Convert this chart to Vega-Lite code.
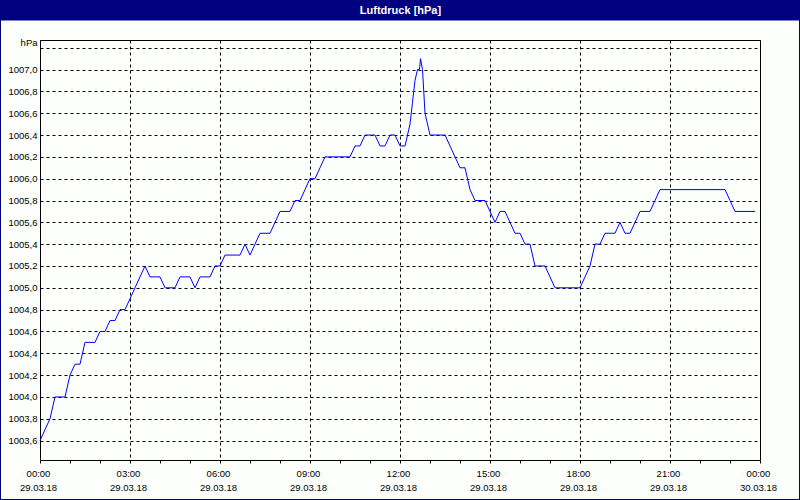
{
  "$schema": "https://vega.github.io/schema/vega-lite/v6.json",
  "width": 800,
  "height": 500,
  "autosize": {"type": "none"},
  "padding": 0,
  "background": "#fcfffc",
  "config": {
    "view": {"fill": "#fcfffc", "stroke": "#000080", "strokeWidth": 2},
    "axis": {"labelFont": "Liberation Sans", "labelFontSize": 9.5, "labelColor": "#000000"}
  },
  "data": {
    "values": [
      {"zeit": "2018-03-29T00:00Z", "hPa": 1003.6},
      {"zeit": "2018-03-29T00:10Z", "hPa": 1003.7},
      {"zeit": "2018-03-29T00:20Z", "hPa": 1003.8},
      {"zeit": "2018-03-29T00:30Z", "hPa": 1004.0},
      {"zeit": "2018-03-29T00:40Z", "hPa": 1004.0},
      {"zeit": "2018-03-29T00:50Z", "hPa": 1004.0},
      {"zeit": "2018-03-29T01:00Z", "hPa": 1004.2},
      {"zeit": "2018-03-29T01:10Z", "hPa": 1004.3},
      {"zeit": "2018-03-29T01:20Z", "hPa": 1004.3},
      {"zeit": "2018-03-29T01:30Z", "hPa": 1004.5},
      {"zeit": "2018-03-29T01:40Z", "hPa": 1004.5},
      {"zeit": "2018-03-29T01:50Z", "hPa": 1004.5},
      {"zeit": "2018-03-29T02:00Z", "hPa": 1004.6},
      {"zeit": "2018-03-29T02:10Z", "hPa": 1004.6},
      {"zeit": "2018-03-29T02:20Z", "hPa": 1004.7},
      {"zeit": "2018-03-29T02:30Z", "hPa": 1004.7},
      {"zeit": "2018-03-29T02:40Z", "hPa": 1004.8},
      {"zeit": "2018-03-29T02:50Z", "hPa": 1004.8},
      {"zeit": "2018-03-29T03:00Z", "hPa": 1004.9},
      {"zeit": "2018-03-29T03:10Z", "hPa": 1005.0},
      {"zeit": "2018-03-29T03:20Z", "hPa": 1005.1},
      {"zeit": "2018-03-29T03:30Z", "hPa": 1005.2},
      {"zeit": "2018-03-29T03:40Z", "hPa": 1005.1},
      {"zeit": "2018-03-29T03:50Z", "hPa": 1005.1},
      {"zeit": "2018-03-29T04:00Z", "hPa": 1005.1},
      {"zeit": "2018-03-29T04:10Z", "hPa": 1005.0},
      {"zeit": "2018-03-29T04:20Z", "hPa": 1005.0},
      {"zeit": "2018-03-29T04:30Z", "hPa": 1005.0},
      {"zeit": "2018-03-29T04:40Z", "hPa": 1005.1},
      {"zeit": "2018-03-29T04:50Z", "hPa": 1005.1},
      {"zeit": "2018-03-29T05:00Z", "hPa": 1005.1},
      {"zeit": "2018-03-29T05:10Z", "hPa": 1005.0},
      {"zeit": "2018-03-29T05:20Z", "hPa": 1005.1},
      {"zeit": "2018-03-29T05:30Z", "hPa": 1005.1},
      {"zeit": "2018-03-29T05:40Z", "hPa": 1005.1},
      {"zeit": "2018-03-29T05:50Z", "hPa": 1005.2},
      {"zeit": "2018-03-29T06:00Z", "hPa": 1005.2},
      {"zeit": "2018-03-29T06:10Z", "hPa": 1005.3},
      {"zeit": "2018-03-29T06:20Z", "hPa": 1005.3},
      {"zeit": "2018-03-29T06:30Z", "hPa": 1005.3},
      {"zeit": "2018-03-29T06:40Z", "hPa": 1005.3},
      {"zeit": "2018-03-29T06:50Z", "hPa": 1005.4},
      {"zeit": "2018-03-29T07:00Z", "hPa": 1005.3},
      {"zeit": "2018-03-29T07:10Z", "hPa": 1005.4},
      {"zeit": "2018-03-29T07:20Z", "hPa": 1005.5},
      {"zeit": "2018-03-29T07:30Z", "hPa": 1005.5},
      {"zeit": "2018-03-29T07:40Z", "hPa": 1005.5},
      {"zeit": "2018-03-29T07:50Z", "hPa": 1005.6},
      {"zeit": "2018-03-29T08:00Z", "hPa": 1005.7},
      {"zeit": "2018-03-29T08:10Z", "hPa": 1005.7},
      {"zeit": "2018-03-29T08:20Z", "hPa": 1005.7},
      {"zeit": "2018-03-29T08:30Z", "hPa": 1005.8},
      {"zeit": "2018-03-29T08:40Z", "hPa": 1005.8},
      {"zeit": "2018-03-29T08:50Z", "hPa": 1005.9},
      {"zeit": "2018-03-29T09:00Z", "hPa": 1006.0},
      {"zeit": "2018-03-29T09:10Z", "hPa": 1006.0},
      {"zeit": "2018-03-29T09:20Z", "hPa": 1006.1},
      {"zeit": "2018-03-29T09:30Z", "hPa": 1006.2},
      {"zeit": "2018-03-29T09:40Z", "hPa": 1006.2},
      {"zeit": "2018-03-29T09:50Z", "hPa": 1006.2},
      {"zeit": "2018-03-29T10:00Z", "hPa": 1006.2},
      {"zeit": "2018-03-29T10:10Z", "hPa": 1006.2},
      {"zeit": "2018-03-29T10:20Z", "hPa": 1006.2},
      {"zeit": "2018-03-29T10:30Z", "hPa": 1006.3},
      {"zeit": "2018-03-29T10:40Z", "hPa": 1006.3},
      {"zeit": "2018-03-29T10:50Z", "hPa": 1006.4},
      {"zeit": "2018-03-29T11:00Z", "hPa": 1006.4},
      {"zeit": "2018-03-29T11:10Z", "hPa": 1006.4},
      {"zeit": "2018-03-29T11:20Z", "hPa": 1006.3},
      {"zeit": "2018-03-29T11:30Z", "hPa": 1006.3},
      {"zeit": "2018-03-29T11:40Z", "hPa": 1006.4},
      {"zeit": "2018-03-29T11:50Z", "hPa": 1006.4},
      {"zeit": "2018-03-29T12:00Z", "hPa": 1006.3},
      {"zeit": "2018-03-29T12:10Z", "hPa": 1006.3},
      {"zeit": "2018-03-29T12:15Z", "hPa": 1006.4},
      {"zeit": "2018-03-29T12:20Z", "hPa": 1006.5},
      {"zeit": "2018-03-29T12:25Z", "hPa": 1006.7},
      {"zeit": "2018-03-29T12:30Z", "hPa": 1006.9},
      {"zeit": "2018-03-29T12:35Z", "hPa": 1007.0},
      {"zeit": "2018-03-29T12:39Z", "hPa": 1007.0},
      {"zeit": "2018-03-29T12:41Z", "hPa": 1007.1},
      {"zeit": "2018-03-29T12:45Z", "hPa": 1007.0},
      {"zeit": "2018-03-29T12:50Z", "hPa": 1006.6},
      {"zeit": "2018-03-29T13:00Z", "hPa": 1006.4},
      {"zeit": "2018-03-29T13:10Z", "hPa": 1006.4},
      {"zeit": "2018-03-29T13:20Z", "hPa": 1006.4},
      {"zeit": "2018-03-29T13:30Z", "hPa": 1006.4},
      {"zeit": "2018-03-29T13:40Z", "hPa": 1006.3},
      {"zeit": "2018-03-29T13:50Z", "hPa": 1006.2},
      {"zeit": "2018-03-29T14:00Z", "hPa": 1006.1},
      {"zeit": "2018-03-29T14:10Z", "hPa": 1006.1},
      {"zeit": "2018-03-29T14:20Z", "hPa": 1005.9},
      {"zeit": "2018-03-29T14:30Z", "hPa": 1005.8},
      {"zeit": "2018-03-29T14:40Z", "hPa": 1005.8},
      {"zeit": "2018-03-29T14:50Z", "hPa": 1005.8},
      {"zeit": "2018-03-29T15:00Z", "hPa": 1005.7},
      {"zeit": "2018-03-29T15:10Z", "hPa": 1005.6},
      {"zeit": "2018-03-29T15:20Z", "hPa": 1005.7},
      {"zeit": "2018-03-29T15:30Z", "hPa": 1005.7},
      {"zeit": "2018-03-29T15:40Z", "hPa": 1005.6},
      {"zeit": "2018-03-29T15:50Z", "hPa": 1005.5},
      {"zeit": "2018-03-29T16:00Z", "hPa": 1005.5},
      {"zeit": "2018-03-29T16:10Z", "hPa": 1005.4},
      {"zeit": "2018-03-29T16:20Z", "hPa": 1005.4},
      {"zeit": "2018-03-29T16:30Z", "hPa": 1005.2},
      {"zeit": "2018-03-29T16:40Z", "hPa": 1005.2},
      {"zeit": "2018-03-29T16:50Z", "hPa": 1005.2},
      {"zeit": "2018-03-29T17:00Z", "hPa": 1005.1},
      {"zeit": "2018-03-29T17:10Z", "hPa": 1005.0},
      {"zeit": "2018-03-29T17:20Z", "hPa": 1005.0},
      {"zeit": "2018-03-29T17:30Z", "hPa": 1005.0},
      {"zeit": "2018-03-29T17:40Z", "hPa": 1005.0},
      {"zeit": "2018-03-29T17:50Z", "hPa": 1005.0},
      {"zeit": "2018-03-29T18:00Z", "hPa": 1005.0},
      {"zeit": "2018-03-29T18:10Z", "hPa": 1005.1},
      {"zeit": "2018-03-29T18:20Z", "hPa": 1005.2},
      {"zeit": "2018-03-29T18:30Z", "hPa": 1005.4},
      {"zeit": "2018-03-29T18:40Z", "hPa": 1005.4},
      {"zeit": "2018-03-29T18:50Z", "hPa": 1005.5},
      {"zeit": "2018-03-29T19:00Z", "hPa": 1005.5},
      {"zeit": "2018-03-29T19:10Z", "hPa": 1005.5},
      {"zeit": "2018-03-29T19:20Z", "hPa": 1005.6},
      {"zeit": "2018-03-29T19:30Z", "hPa": 1005.5},
      {"zeit": "2018-03-29T19:40Z", "hPa": 1005.5},
      {"zeit": "2018-03-29T19:50Z", "hPa": 1005.6},
      {"zeit": "2018-03-29T20:00Z", "hPa": 1005.7},
      {"zeit": "2018-03-29T20:10Z", "hPa": 1005.7},
      {"zeit": "2018-03-29T20:20Z", "hPa": 1005.7},
      {"zeit": "2018-03-29T20:30Z", "hPa": 1005.8},
      {"zeit": "2018-03-29T20:40Z", "hPa": 1005.9},
      {"zeit": "2018-03-29T20:50Z", "hPa": 1005.9},
      {"zeit": "2018-03-29T21:00Z", "hPa": 1005.9},
      {"zeit": "2018-03-29T21:10Z", "hPa": 1005.9},
      {"zeit": "2018-03-29T21:20Z", "hPa": 1005.9},
      {"zeit": "2018-03-29T21:30Z", "hPa": 1005.9},
      {"zeit": "2018-03-29T21:40Z", "hPa": 1005.9},
      {"zeit": "2018-03-29T21:50Z", "hPa": 1005.9},
      {"zeit": "2018-03-29T22:00Z", "hPa": 1005.9},
      {"zeit": "2018-03-29T22:10Z", "hPa": 1005.9},
      {"zeit": "2018-03-29T22:20Z", "hPa": 1005.9},
      {"zeit": "2018-03-29T22:30Z", "hPa": 1005.9},
      {"zeit": "2018-03-29T22:40Z", "hPa": 1005.9},
      {"zeit": "2018-03-29T22:50Z", "hPa": 1005.9},
      {"zeit": "2018-03-29T23:00Z", "hPa": 1005.8},
      {"zeit": "2018-03-29T23:10Z", "hPa": 1005.7},
      {"zeit": "2018-03-29T23:20Z", "hPa": 1005.7},
      {"zeit": "2018-03-29T23:30Z", "hPa": 1005.7},
      {"zeit": "2018-03-29T23:40Z", "hPa": 1005.7},
      {"zeit": "2018-03-29T23:50Z", "hPa": 1005.7}
    ]
  },
  "layer": [
    {
      "mark": {"type": "line", "color": "#0000ff", "strokeWidth": 1},
      "encoding": {
        "x": {
          "field": "zeit",
          "type": "temporal",
          "scale": {"type": "utc", "domain": [1522281600000, 1522368000000], "range": [40, 760], "nice": false},
          "axis": {
            "orient": "bottom",
            "offset": -40,
            "title": null,
            "values": [1522281600000, 1522285200000, 1522288800000, 1522292400000, 1522296000000, 1522299600000, 1522303200000, 1522306800000, 1522310400000, 1522314000000, 1522317600000, 1522321200000, 1522324800000, 1522328400000, 1522332000000, 1522335600000, 1522339200000, 1522342800000, 1522346400000, 1522350000000, 1522353600000, 1522357200000, 1522360800000, 1522364400000, 1522368000000],
            "domain": true,
            "domainColor": "#000000",
            "domainWidth": 1,
            "ticks": true,
            "tickSize": 3,
            "tickColor": "#000000",
            "tickWidth": 1,
            "grid": true,
            "gridColor": "#000000",
            "gridWidth": 1,
            "gridDash": [3, 3],
            "gridOpacity": {"condition": {"test": "utchours(datum.value) % 3 == 0", "value": 1}, "value": 0},
            "labelExpr": "utchours(datum.value) % 3 == 0 ? [utcFormat(datum.value, '%H:%M'), utcFormat(datum.value, '%d.%m.%y')] : ''",
            "labelAngle": 0,
            "labelPadding": 5,
            "labelLineHeight": 14,
            "labelOffset": -2,
            "labelFlush": false,
            "labelOverlap": false,
            "labelBound": false
          }
        },
        "y": {
          "field": "hPa",
          "type": "quantitative",
          "scale": {"domain": [1003.422, 1007.271], "range": [460, 40], "nice": false, "zero": false},
          "axis": {
            "orient": "left",
            "offset": -40,
            "title": null,
            "values": [1003.6, 1003.8, 1004.0, 1004.2, 1004.4, 1004.6, 1004.8, 1005.0, 1005.2, 1005.4, 1005.6, 1005.8, 1006.0, 1006.2, 1006.4, 1006.6, 1006.8, 1007.0, 1007.2],
            "domain": true,
            "domainColor": "#000000",
            "domainWidth": 1,
            "ticks": false,
            "grid": true,
            "gridColor": "#000000",
            "gridWidth": 1,
            "gridDash": [3, 3],
            "labelExpr": "datum.value > 1007.1 ? 'hPa' : replace(format(datum.value, '.1f'), '.', ',')",
            "labelBaseline": {"condition": {"test": "datum.value > 1007.1", "value": "bottom"}, "value": "middle"},
            "labelPadding": 3,
            "labelFlush": false,
            "labelOverlap": false,
            "labelBound": false
          }
        }
      }
    },
    {
      "mark": {"type": "line", "opacity": 0},
      "encoding": {
        "x": {
          "field": "zeit",
          "type": "temporal",
          "axis": {
            "orient": "top",
            "offset": -20,
            "title": "Luftdruck [hPa]",
            "titleX": 400,
            "titleY": -7,
            "titleAngle": 0,
            "titleAlign": "center",
            "titleBaseline": "alphabetic",
            "titleColor": "#ffffff",
            "titleFont": "Liberation Sans",
            "titleFontSize": 11,
            "titleFontWeight": "bold",
            "values": [1522324800000],
            "domain": false,
            "grid": false,
            "labels": false,
            "ticks": true,
            "tickSize": 20,
            "tickWidth": 800,
            "tickColor": "#000080",
            "tickCap": "butt"
          }
        },
        "y": {
          "field": "hPa",
          "type": "quantitative",
          "axis": {
            "orient": "right",
            "offset": -40,
            "title": null,
            "values": [1007.271],
            "domain": true,
            "domainColor": "#000000",
            "domainWidth": 1,
            "grid": false,
            "labels": false,
            "ticks": true,
            "tickSize": -720,
            "tickWidth": 1,
            "tickColor": "#000000"
          }
        }
      }
    }
  ],
  "resolve": {"axis": {"x": "independent", "y": "independent"}}
}
